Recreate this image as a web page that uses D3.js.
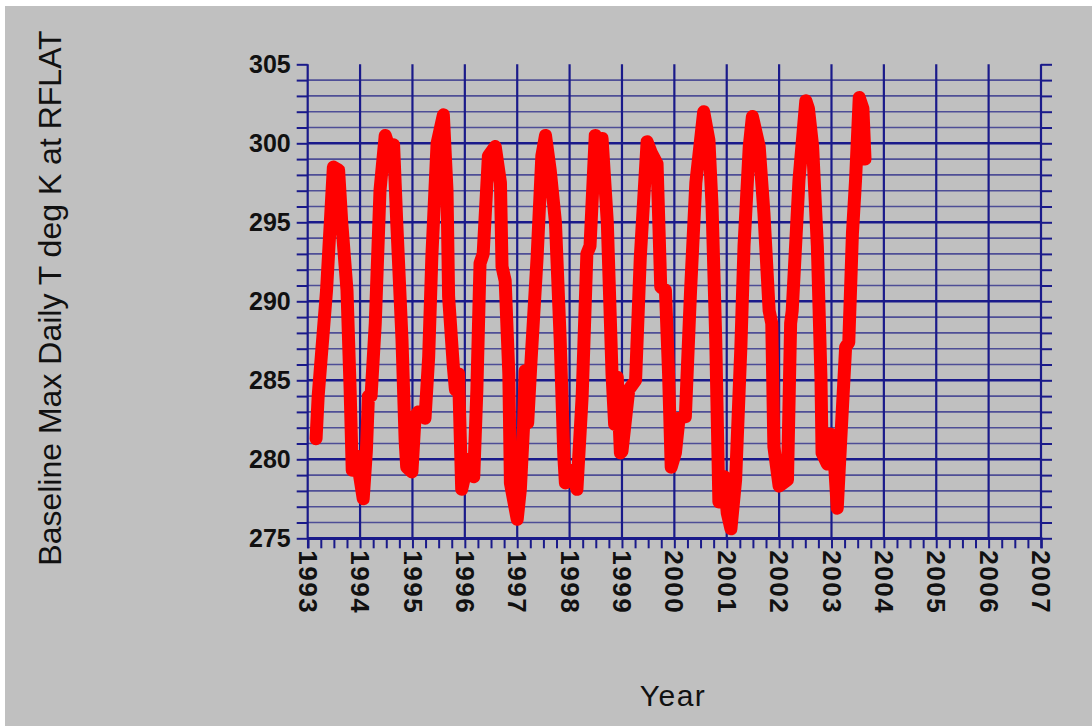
<!DOCTYPE html>
<html>
<head>
<meta charset="utf-8">
<script src="https://cdn.jsdelivr.net/npm/d3@7"></script>
<style>
  body { margin: 0; background: #fff; }
  text { font-family: "Liberation Sans", Arial, sans-serif; }
</style>
</head>
<body>
<svg width="1092" height="726"></svg>
<script>
// year (decimal) and baseline max daily temperature
const dates = [
  1993.16, 1993.20, 1993.36, 1993.49, 1993.59, 1993.65, 1993.75, 1993.81, 1993.85, 1993.94, 1993.98,
  1994.06, 1994.12, 1994.16, 1994.21, 1994.29, 1994.38, 1994.48, 1994.55, 1994.64, 1994.70, 1994.80, 1994.86, 1994.89, 1994.99,
  1995.05, 1995.11, 1995.24, 1995.31, 1995.37, 1995.47, 1995.59, 1995.66, 1995.69, 1995.78, 1995.82, 1995.88, 1995.94,
  1996.07, 1996.17, 1996.23, 1996.29, 1996.35, 1996.45, 1996.58, 1996.68, 1996.71, 1996.77, 1996.84, 1996.87,
  1997.00, 1997.06, 1997.12, 1997.15, 1997.20, 1997.26, 1997.38, 1997.47, 1997.54, 1997.63, 1997.73, 1997.82, 1997.89, 1997.92,
  1998.05, 1998.14, 1998.24, 1998.33, 1998.39, 1998.49, 1998.56, 1998.62, 1998.72, 1998.81, 1998.86, 1998.91, 1998.97,
  1999.00, 1999.13, 1999.26, 1999.35, 1999.48, 1999.56, 1999.67, 1999.74, 1999.83, 1999.89, 1999.94,
  2000.02, 2000.09, 2000.21, 2000.31, 2000.41, 2000.45, 2000.56, 2000.66, 2000.72, 2000.79, 2000.85, 2000.95,
  2001.01, 2001.08, 2001.17, 2001.27, 2001.33, 2001.43, 2001.49, 2001.62, 2001.71, 2001.81, 2001.86, 2001.90,
  2002.00, 2002.16, 2002.22, 2002.25, 2002.38, 2002.51, 2002.56, 2002.64, 2002.73, 2002.80, 2002.82, 2002.92, 2002.98,
  2003.03, 2003.11, 2003.17, 2003.27, 2003.33, 2003.40, 2003.46, 2003.53, 2003.60, 2003.64
];
const temps = [
  281.3, 284.0, 290.7, 298.5, 298.3, 295.0, 290.7, 284.4, 279.3, 280.2, 279.2,
  277.5, 280.5, 284.0, 284.0, 288.6, 297.0, 300.5, 299.8, 299.9, 295.0, 287.6, 281.2, 279.5, 279.2,
  282.7, 283.0, 282.6, 286.5, 292.8, 300.0, 301.8, 297.0, 290.3, 285.9, 284.4, 285.4, 278.1,
  280.0, 278.9, 284.4, 292.4, 293.0, 299.2, 299.8, 297.5, 292.2, 291.3, 285.4, 278.5,
  276.2, 278.1, 282.0, 285.6, 282.3, 286.0, 292.8, 299.2, 300.5, 298.3, 295.0, 287.6, 280.2, 278.5,
  279.3, 278.1, 284.0, 293.0, 293.5, 300.5, 298.3, 300.3, 295.0, 285.4, 282.2, 285.2, 280.4,
  280.5, 284.4, 285.0, 292.8, 300.1, 299.4, 298.7, 290.9, 290.7, 285.4, 279.5,
  280.4, 282.6, 282.7, 290.7, 297.5, 298.7, 302.0, 300.2, 296.0, 287.6, 277.3, 278.9,
  276.6, 275.6, 278.7, 287.1, 293.5, 299.8, 301.7, 299.8, 295.6, 289.4, 288.6, 280.8,
  278.3, 278.7, 288.6, 289.4, 297.7, 302.7, 302.2, 299.8, 293.5, 285.0, 280.4, 279.7, 281.6,
  281.3, 276.9, 280.8, 287.1, 287.4, 294.3, 297.7, 302.9, 302.2, 299.0
];
const years = d3.range(1993, 2008);
const majorT = d3.range(275, 306, 5);
const minorT = d3.range(276, 305).filter(d => d % 5 !== 0);

const svg = d3.select("svg");
const x0 = 307.7, x1 = 1041, y0 = 538.3, y1 = 64.3;

const x = d3.scaleLinear().domain([1993, 2007]).range([x0, x1]);
const y = d3.scaleLinear().domain([275, 305]).range([y0, y1]);

// grey panel (small white margin top/left)
svg.append("rect").attr("x", 5).attr("y", 6).attr("width", 1087).attr("height", 720).attr("fill", "#c0c0c0");

const navy = "#1a1a8a";

// minor horizontal grid
svg.append("g").selectAll("line").data(minorT).enter().append("line")
  .attr("x1", x0).attr("x2", x1)
  .attr("y1", d => y(d)).attr("y2", d => y(d))
  .attr("stroke", "#4e4e96").attr("stroke-width", 1.6);

// major horizontal grid (not at top)
svg.append("g").selectAll("line").data(majorT.filter(d => d < 305)).enter().append("line")
  .attr("x1", x0).attr("x2", x1)
  .attr("y1", d => y(d)).attr("y2", d => y(d))
  .attr("stroke", navy).attr("stroke-width", 2.4);

// vertical year lines
svg.append("g").selectAll("line").data(years).enter().append("line")
  .attr("x1", d => x(d)).attr("x2", d => x(d))
  .attr("y1", y1).attr("y2", y0)
  .attr("stroke", navy).attr("stroke-width", 2.2);

// left axis: ticks every unit, labels every 5
svg.append("g")
  .attr("transform", `translate(${x0},0)`)
  .call(d3.axisLeft(y).tickValues(d3.range(275, 306)).tickSize(11).tickFormat(""))
  .call(g => g.select(".domain").remove())
  .selectAll("line").attr("stroke", navy).attr("stroke-width", 2);

svg.append("g")
  .attr("transform", `translate(${x0},0)`)
  .call(d3.axisLeft(y).tickValues(majorT).tickSize(0).tickPadding(17).tickFormat(d3.format("d")))
  .call(g => g.select(".domain").remove())
  .selectAll("text")
  .attr("dy", "0.34em")
  .style("font-size", "25px").style("font-weight", "bold").attr("fill", "#111");

// right axis ticks
svg.append("g")
  .attr("transform", `translate(${x1},0)`)
  .call(d3.axisRight(y).tickValues(d3.range(275, 306)).tickSize(11).tickFormat(""))
  .call(g => g.select(".domain").remove())
  .selectAll("line").attr("stroke", navy).attr("stroke-width", 2);

// bottom axis: quarter-year ticks and year labels
svg.append("g")
  .attr("transform", `translate(0,${y0})`)
  .call(d3.axisBottom(x).tickValues(d3.range(1993, 2007.01, 0.25)).tickSize(10).tickFormat(""))
  .call(g => g.select(".domain").attr("stroke", navy).attr("stroke-width", 2.5))
  .selectAll("line").attr("stroke", navy).attr("stroke-width", 2);

svg.append("g")
  .attr("transform", `translate(0,${y0})`)
  .call(d3.axisBottom(x).tickValues(years).tickSize(0).tickFormat(d3.format("d")))
  .call(g => g.select(".domain").remove())
  .selectAll("text")
  .attr("transform", "rotate(90)")
  .attr("x", 12).attr("y", 0).attr("dy", "0.36em")
  .style("text-anchor", "start")
  .style("font-size", "26px").style("font-weight", "bold")
  .style("letter-spacing", "1.5px").attr("fill", "#111");

// data line
const line = d3.line()
  .x((d, i) => x(dates[i]))
  .y(d => y(d));

svg.append("path")
  .datum(temps)
  .attr("d", line)
  .attr("fill", "none")
  .attr("stroke", "#ff0000")
  .attr("stroke-width", 13)
  .attr("stroke-linejoin", "round")
  .attr("stroke-linecap", "round");

// axis titles
svg.append("text")
  .attr("x", 673).attr("y", 706)
  .attr("text-anchor", "middle")
  .style("font-size", "30px").style("letter-spacing", "1.5px")
  .attr("fill", "#111")
  .text("Year");

svg.append("text")
  .attr("transform", "translate(61,298) rotate(-90)")
  .attr("text-anchor", "middle")
  .style("font-size", "32px")
  .attr("fill", "#111")
  .text("Baseline Max Daily T deg K at RFLAT");
</script>
</body>
</html>
